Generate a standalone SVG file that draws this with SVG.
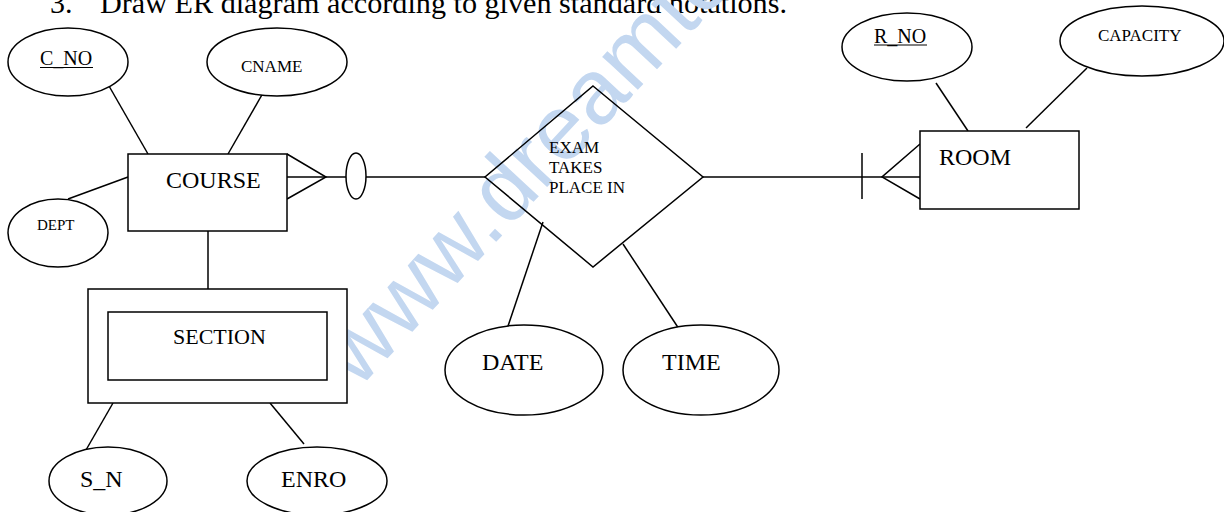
<svg xmlns="http://www.w3.org/2000/svg" width="1224" height="512" viewBox="0 0 1224 512">
<style>
.s{fill:none;stroke:#000;stroke-width:1.5}
.n{fill:#fff;stroke:#000;stroke-width:1.5}
.t{font-family:"Liberation Serif","Times New Roman",serif;fill:#000}
.wm{font-family:"Liberation Sans",Arial,sans-serif;fill:#c3d7f0}
</style>
<rect width="1224" height="512" fill="#fff"/>
<text class="t" x="50" y="13" font-size="30">3.</text>
<text class="t" x="100" y="13" font-size="30" textLength="687" lengthAdjust="spacingAndGlyphs">Draw ER diagram according to given standard notations.</text>
<text class="wm" x="358" y="390" font-size="92" transform="rotate(-47 358 390)">www.dreamto</text>
<g id="connectors">
<line class="s" x1="109" y1="86" x2="148" y2="154"/>
<line class="s" x1="267" y1="86" x2="228" y2="154"/>
<line class="s" x1="68" y1="199" x2="128" y2="177"/>
<line class="s" x1="208" y1="231" x2="208" y2="289"/>
<line class="s" x1="113" y1="403" x2="86" y2="450"/>
<line class="s" x1="270" y1="403" x2="304" y2="444"/>
<polyline class="s" points="287,154 326,177 287,199"/>
<line class="s" x1="287" y1="177" x2="346" y2="177"/>
<line class="s" x1="366" y1="177" x2="485" y2="177"/>
<line class="s" x1="543" y1="222" x2="505" y2="335"/>
<line class="s" x1="623" y1="244" x2="683" y2="335"/>
<line class="s" x1="703" y1="177" x2="920" y2="177"/>
<line class="s" x1="862" y1="153" x2="862" y2="199"/>
<polyline class="s" points="920,144 882,177 920,199"/>
<line class="s" x1="936" y1="83" x2="968" y2="131"/>
<line class="s" x1="1087" y1="68" x2="1026" y2="128"/>
<ellipse class="n" cx="356" cy="176" rx="10" ry="23"/>
</g>
<g id="c_no">
<ellipse class="n" cx="68" cy="62" rx="60" ry="34"/>
<text class="t" x="40" y="65" font-size="20">C_NO</text>
<line x1="40" y1="67.5" x2="93" y2="67.5" stroke="#000" stroke-width="1"/>
</g>
<g id="cname">
<ellipse class="n" cx="277" cy="62" rx="70" ry="34"/>
<text class="t" x="241" y="72" font-size="17">CNAME</text>
</g>
<g id="dept">
<ellipse class="n" cx="58" cy="233" rx="50" ry="34"/>
<text class="t" x="37" y="230" font-size="15">DEPT</text>
</g>
<g id="course">
<rect class="n" x="128" y="154" width="159" height="77"/>
<text class="t" x="166" y="188" font-size="24">COURSE</text>
</g>
<g id="section">
<rect class="n" x="88" y="289" width="259" height="114"/>
<rect class="n" x="108" y="312" width="219" height="68"/>
<text class="t" x="173" y="344" font-size="22">SECTION</text>
</g>
<g id="s_n">
<ellipse class="n" cx="108" cy="481" rx="59" ry="34"/>
<text class="t" x="80" y="487" font-size="24">S_N</text>
</g>
<g id="enro">
<ellipse class="n" cx="317" cy="481" rx="70" ry="34"/>
<text class="t" x="281" y="487" font-size="24">ENRO</text>
</g>
<g id="exam">
<polygon class="s" points="593,86 703,177 593,267 485,177"/>
<text class="t" x="549" y="153" font-size="17">EXAM</text>
<text class="t" x="549" y="173" font-size="17">TAKES</text>
<text class="t" x="549" y="193" font-size="17">PLACE IN</text>
</g>
<g id="date">
<ellipse class="n" cx="524" cy="370" rx="79" ry="45"/>
<text class="t" x="482" y="370" font-size="24">DATE</text>
</g>
<g id="time">
<ellipse class="n" cx="701" cy="370" rx="78" ry="45"/>
<text class="t" x="662" y="370" font-size="24">TIME</text>
</g>
<g id="room">
<rect class="n" x="920" y="131" width="159" height="78"/>
<text class="t" x="939" y="165" font-size="24">ROOM</text>
</g>
<g id="r_no">
<ellipse class="n" cx="907" cy="47" rx="65" ry="34"/>
<text class="t" x="874" y="43" font-size="20">R_NO</text>
<line x1="874" y1="45" x2="927" y2="45" stroke="#000" stroke-width="1"/>
</g>
<g id="capacity">
<ellipse class="n" cx="1142" cy="41" rx="82" ry="35"/>
<text class="t" x="1098" y="41" font-size="17">CAPACITY</text>
</g>
</svg>
